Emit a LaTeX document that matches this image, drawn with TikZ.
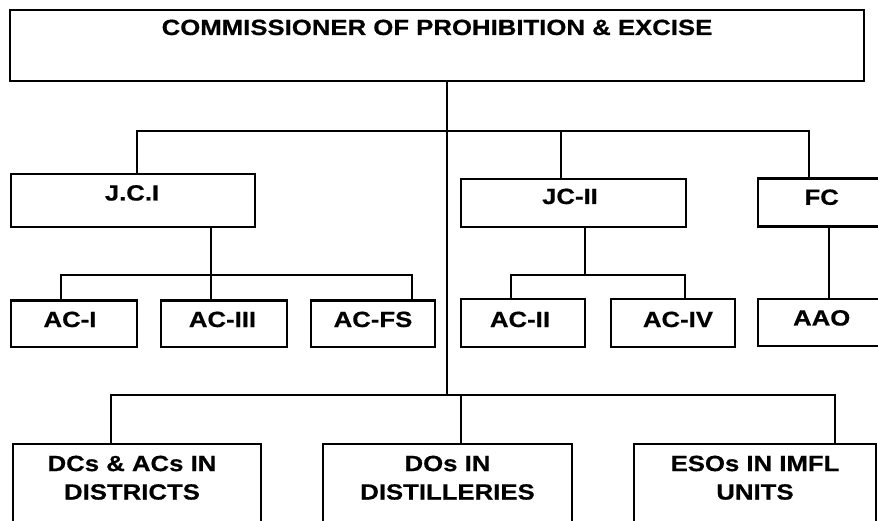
\documentclass[tikz,border=0pt]{standalone}
\usepackage{fontspec}
\newfontfamily\orgfont{Liberation Sans}[FakeStretch=1.17,FakeBold=0.6]
\begin{document}
\begin{tikzpicture}[x=1pt,y=-1pt,
  box/.style={draw=black, line width=2.2pt, inner sep=0pt, fill=none},
  lab/.style={inner sep=0pt, align=center, font=\orgfont\bfseries\fontsize{22}{28.5}\selectfont},
  conn/.style={draw=black, line width=2pt}]
\useasboundingbox (0,0) rectangle (878,521);
\clip (0,0) rectangle (878,521);
\fill[white] (0,0) rectangle (878,521);
% boxes
\node[box, minimum width=854pt, minimum height=70.7pt] (comm) at (437,45.35) {};
\node[box, minimum width=244pt, minimum height=52.7pt] (jci) at (133,200.35) {};
\node[box, minimum width=225pt, minimum height=47.7pt] (jcii) at (573.2,202.85) {};
\node[box, minimum width=126.7pt, minimum height=48pt] (fc) at (821.65,202.5) {};
\node[box, minimum width=125.7pt, minimum height=46.3pt] (aci) at (73.85,323.65) {};
\node[box, minimum width=125.7pt, minimum height=46.3pt] (aciii) at (223.85,323.65) {};
\node[box, minimum width=124.3pt, minimum height=46.3pt] (acfs) at (372.85,323.65) {};
\node[box, minimum width=124.3pt, minimum height=48pt] (acii) at (522.85,323) {};
\node[box, minimum width=124.3pt, minimum height=48pt] (aciv) at (672.85,323) {};
\node[box, minimum width=126.7pt, minimum height=47pt] (aao) at (821.65,322.5) {};
\node[box, minimum width=247.4pt, minimum height=115.7pt] (dcs) at (137,502.15) {};
\node[box, minimum width=249pt, minimum height=115.7pt] (dos) at (447.5,502.15) {};
\node[box, minimum width=242pt, minimum height=115.7pt] (esos) at (755,502.15) {};
% labels
\node[lab, anchor=base] (commT) at (437,35) {COMMISSIONER OF PROHIBITION \& EXCISE};
\node[lab, anchor=base] (jciT) at (132,200.5) {J.C.I};
\node[lab, anchor=base] (jciiT) at (570,204) {JC-II};
\node[lab, anchor=base] (fcT) at (821.7,204.8) {FC};
\node[lab, anchor=base] (aciT) at (70,327) {AC-I};
\node[lab, anchor=base] (aciiiT) at (222.5,327) {AC-III};
\node[lab, anchor=base] (acfsT) at (373,327) {AC-FS};
\node[lab, anchor=base] (aciiT) at (520,327) {AC-II};
\node[lab, anchor=base] (acivT) at (678,327) {AC-IV};
\node[lab, anchor=base] (aaoT) at (821.7,325.5) {AAO};
\node[lab, anchor=north] (dcsT) at (132,455.5) {DCs \& ACs IN\\DISTRICTS};
\node[lab, anchor=north] (dosT) at (447.5,455.5) {DOs IN\\DISTILLERIES};
\node[lab, anchor=north] (esosT) at (755,455.5) {ESOs IN IMFL\\UNITS};
% bus coordinates
\coordinate (trunkBot) at (447,395);
\coordinate (busL) at (137,131.5);
\coordinate (busR) at (809,131.5);
\coordinate (busM) at (560.7,131.5);
\coordinate (jciBus) at (210.7,275);
\coordinate (jciBusL) at (60.7,275);
\coordinate (jciBusR) at (411.7,275);
\coordinate (jciiBus) at (585,275);
\coordinate (jciiBusL) at (511,275);
\coordinate (jciiBusR) at (685,275);
\coordinate (fcDrop) at (829,226.5);
\coordinate (botL) at (111,395);
\coordinate (botM) at (461,395);
\coordinate (botR) at (835,395);
% connectors
\draw[conn] (comm.south -| trunkBot) -- (trunkBot);
\draw[conn] (busL |- jci.north) -- (busL) -- (busR) -- (busR |- fc.north);
\draw[conn] (busM) -- (busM |- jcii.north);
\draw[conn] (jciBus |- jci.south) -- (jciBus);
\draw[conn] (jciBusL |- aci.north) -- (jciBusL) -- (jciBusR) -- (jciBusR |- acfs.north);
\draw[conn] (jciBus) -- (jciBus |- aciii.north);
\draw[conn] (jciiBus |- jcii.south) -- (jciiBus);
\draw[conn] (jciiBusL |- acii.north) -- (jciiBusL) -- (jciiBusR) -- (jciiBusR |- aciv.north);
\draw[conn] (fcDrop |- fc.south) -- (fcDrop |- aao.north);
\draw[conn] (botL |- dcs.north) -- (botL) -- (botR) -- (botR |- esos.north);
\draw[conn] (botM) -- (botM |- dos.north);
\end{tikzpicture}
\end{document}
